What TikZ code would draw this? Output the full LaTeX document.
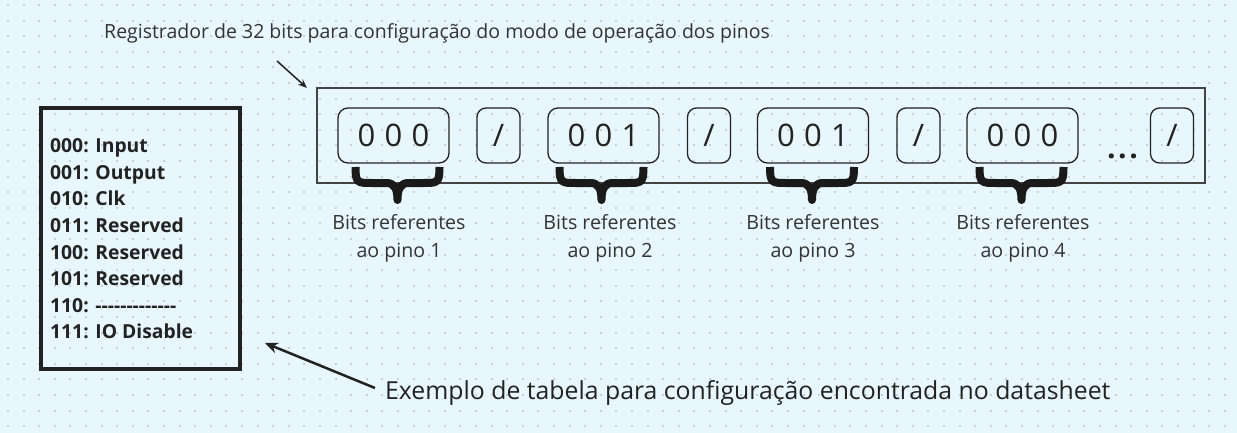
\documentclass[tikz,border=0pt]{standalone}
\usepackage{fontspec}
\setmainfont{Open Sans}
\usetikzlibrary{arrows.meta}
\definecolor{bgc}{HTML}{E8F6FD}
\definecolor{dotc}{HTML}{C6CFD4}
\definecolor{ink}{HTML}{222222}
\definecolor{txt}{HTML}{333333}
\definecolor{brc}{HTML}{1A1A1A}
\tikzset{
  bitbox/.style={draw=ink, line width=1.3pt, rounded corners=10pt, minimum width=111pt, minimum height=55pt, inner sep=0pt, font=\fontsize{31}{31}\selectfont, text=ink},
  slashbox/.style={draw=ink, line width=1.3pt, rounded corners=9pt, minimum width=43pt, minimum height=55pt, inner sep=0pt, font=\fontsize{31}{31}\selectfont, text=ink},
  bitlabel/.style={align=center, font=\fontsize{19.6}{28}\selectfont, text=txt, inner sep=0pt},
  bracestyle/.style={draw=brc, line width=8pt, line cap=butt, line join=round},
}
\newcommand{\dsh}{{-}}
\begin{document}
\begin{tikzpicture}[x=1pt,y=-1pt]
\fill[bgc] (0,0) rectangle (1237,433);
\useasboundingbox (0,0) rectangle (1237,433);
% dot grid
\foreach \i in {0,...,79}{
  \foreach \j in {0,...,27}{
    \fill[dotc] ({8+15.6*\i-1},{5+15.6*\j-1}) rectangle ++(2,2);
  }
}
% title
\node[anchor=west, inner sep=0pt, font=\fontsize{19.5}{19.5}\selectfont, text=txt] (title) at (104,33) {Registrador de 32 bits para configuração do modo de operação dos pinos};
% register frame
\node[draw=ink!85, line width=1.3pt, minimum width=888pt, minimum height=95pt, inner sep=0pt] (reg) at (761,135.5) {};
\coordinate (tstart) at (277,61);
\coordinate (tend) at (307,88);
\draw[ink, line width=1.5pt, -{Stealth[length=9pt,width=7pt]}] (tstart) -- (tend);
% bit boxes
\node[bitbox] (b1) at (393.5,135.5) {0\hspace{0.3em}0\hspace{0.3em}0};
\node[slashbox] (s1) at (498.5,135.5) {/};
\node[bitbox] (b2) at (603.5,135.5) {0\hspace{0.3em}0\hspace{0.3em}1};
\node[slashbox] (s2) at (709,135.5) {/};
\node[bitbox] (b3) at (813,135.5) {0\hspace{0.3em}0\hspace{0.3em}1};
\node[slashbox] (s3) at (918.5,135.5) {/};
\node[bitbox] (b4) at (1022.5,135.5) {0\hspace{0.3em}0\hspace{0.3em}0};
\node[inner sep=0pt, font=\bfseries\fontsize{30}{30}\selectfont, text=ink, anchor=base] (dots) at (1122.5,158) {.\hspace{2.5pt}.\hspace{2.5pt}.};
\node[slashbox] (s4) at (1172,135.5) {/};
% braces
\foreach \cx in {397.5,601.5,812,1021.5}{
  \path[bracestyle] ({\cx-42},167) .. controls ({\cx-42},183) and ({\cx-40},183) .. ({\cx-26},183)
     -- ({\cx-11},183) .. controls ({\cx-3},183) and (\cx,189) .. (\cx,200)
     .. controls (\cx,189) and ({\cx+3},183) .. ({\cx+11},183)
     -- ({\cx+26},183) .. controls ({\cx+40},183) and ({\cx+42},183) .. ({\cx+42},167);
}
\node[bitlabel] (l1) at (399,238) {Bits referentes\\ao pino 1};
\node[bitlabel] (l2) at (610,238) {Bits referentes\\ao pino 2};
\node[bitlabel] (l3) at (813,238) {Bits referentes\\ao pino 3};
\node[bitlabel] (l4) at (1023,238) {Bits referentes\\ao pino 4};
% table
\node[draw=ink, line width=4.5pt, minimum width=199pt, minimum height=261pt, inner sep=0pt] (tbl) at (140.5,238.5) {};
\node[anchor=west, align=left, inner sep=0pt, font=\bfseries\fontsize{19.3}{26.6}\selectfont, text=ink] (tbltext) at (50,239) {000: Input\\001: Output\\010: Clk\\011: Reserved\\100: Reserved\\101: Reserved\\110: \dsh\dsh\dsh\dsh\dsh\dsh\dsh\dsh\dsh\dsh\dsh\dsh\dsh\\111: IO Disable};
% bottom text and arrow
\node[anchor=west, inner sep=0pt, font=\fontsize{24.8}{24.8}\selectfont, text=ink] (bottom) at (385,393) {Exemplo de tabela para configuração encontrada no datasheet};
\coordinate (bstart) at (375,388);
\coordinate (bend) at (265,343);
\draw[ink, line width=2.5pt, -{Stealth[length=13pt,width=11pt]}] (bstart) -- (bend);
\end{tikzpicture}
\end{document}
